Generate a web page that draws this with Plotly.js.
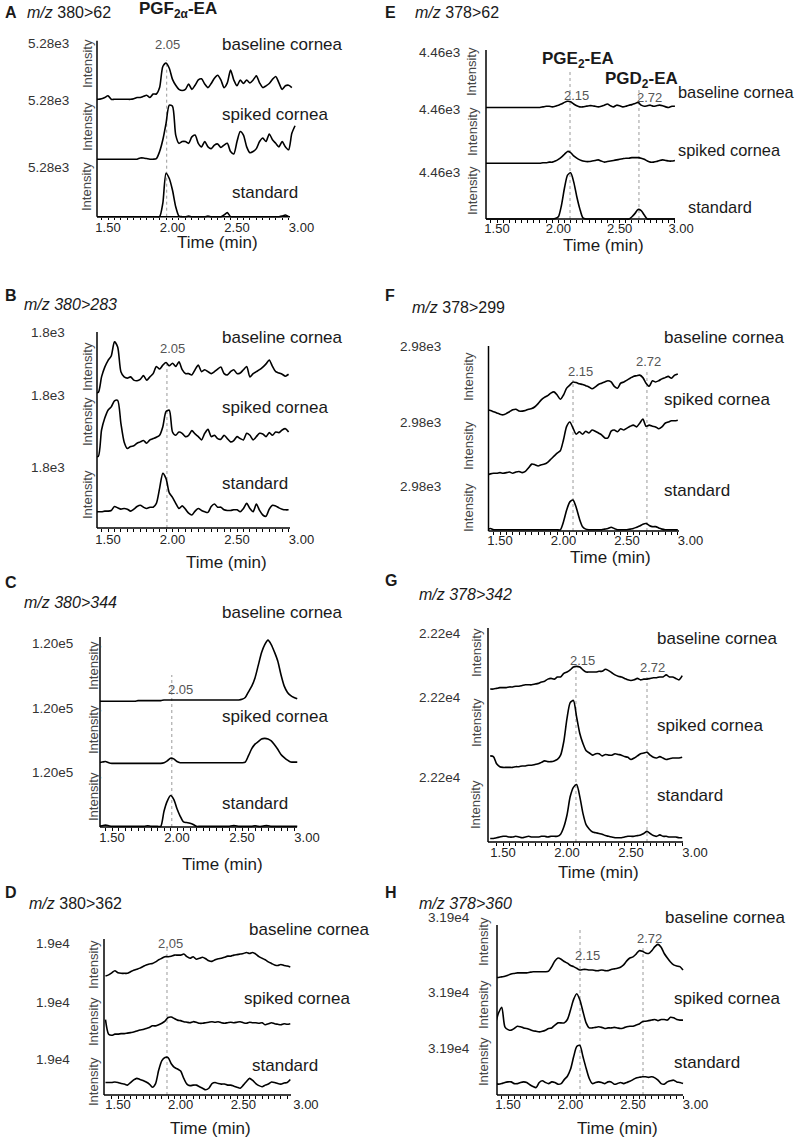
<!DOCTYPE html>
<html><head><meta charset="utf-8">
<script src="https://cdn.plot.ly/plotly-3.0.1.min.js"></script>
<style>html,body{margin:0;padding:0;background:#fff;}#chart{width:797px;height:1138px;}</style>
</head><body><div id="chart"></div>
<script>
// ---------------- DATA ----------------
const TIME = [1.400,1.425,1.450,1.475,1.500,1.525,1.550,1.575,1.600,1.625,
 1.650,1.675,1.700,1.725,1.750,1.775,1.800,1.825,1.850,1.875,
 1.900,1.925,1.950,1.975,2.000,2.025,2.050,2.075,2.100,2.125,
 2.150,2.175,2.200,2.225,2.250,2.275,2.300,2.325,2.350,2.375,
 2.400,2.425,2.450,2.475,2.500,2.525,2.550,2.575,2.600,2.625,
 2.650,2.675,2.700,2.725,2.750,2.775,2.800,2.825,2.850,2.875,
 2.900,2.925,2.950];

const PANEL_LETTERS = ['A','B','C','D','E','F','G','H'];
const TRANSITIONS = ['380>62','380>283','380>344','380>362','378>62','378>299','378>342','378>360'];
const INTENSITY_MAX = ['5.28e3','1.8e3','1.20e5','1.9e4','4.46e3','2.98e3','2.22e4','3.19e4'];
const SERIES_NAMES = ['baseline cornea','spiked cornea','standard'];
const RT_MARK_TIMES = [[1.955],[1.957],[1.96],[1.891],[2.095,2.657],[2.075,2.657],[2.07,2.625],[2.076,2.58]];
const RT_MARK_LABELS = [['2.05'],['2.05'],['2.05'],['2.05'],['2.15','2.72'],['2.15','2.72'],['2.15','2.72'],['2.15','2.72']];
const X_TICKS = [1.5, 2.0, 2.5, 3.0];
const X_TICK_TEXT = ['1.50','2.00','2.50','3.00'];

// relative intensity (% of each trace's full scale)
const A_BASELINE = [0,0,1,3,6,0,0,0,0,0,
 0,0,1,3,3,5,7,3,9,9,
 20,56,62,53,34,24,17,15,17,26,
 17,24,33,35,26,20,27,36,41,33,
 20,28,50,33,23,33,27,33,28,33,
 40,28,20,23,27,34,39,28,17,23,
 24,20,null];
const A_SPIKED = [-2,-2,-2,-2,-2,-2,-2,-2,-2,-2,
 -2,-2,-2,-2,0,0,-1,-2,-2,-1,
 11,31,59,90,88,39,25,28,28,25,
 36,39,25,19,28,19,16,22,24,18,
 22,25,11,7,28,45,39,19,9,11,
 16,28,34,28,41,31,25,19,28,19,
 14,42,55];
const A_STANDARD = [0,0,0,0,0,0,0,0,0,0,
 0,0,0,0,0,0,0,0,0,0,
 0,23,74,65,45,17,1,0,0,1,
 0,0,0,0,0,1,0,0,0,0,
 3,7,0,0,0,0,0,0,0,0,
 0,0,0,0,0,0,0,0,1,3,
 0,null,null];

const B_BASELINE = [7,7,31,46,56,63,85,77,39,31,
 29,31,26,25,27,33,26,31,36,47,
 43,49,53,48,52,47,54,42,36,36,
 34,42,49,39,42,39,36,39,43,46,
 36,34,39,42,36,37,42,47,31,36,
 39,42,46,51,57,47,39,37,35,32,
 35,null,null];
const B_SPIKED = [10,10,50,68,80,85,94,95,60,32,
 22,25,26,30,32,34,30,35,37,39,
 42,55,78,80,47,42,47,45,40,42,
 49,44,40,35,45,51,40,42,37,36,
 42,37,32,34,40,37,35,45,42,35,
 40,45,44,40,46,42,47,46,50,52,
 47,null,null];
const B_STANDARD = [25,25,25,26,26,27,33,31,29,30,
 29,26,29,33,35,32,30,32,32,38,
 61,84,76,54,47,38,30,34,29,23,
 20,26,30,27,25,24,33,37,32,32,
 28,27,27,28,28,25,30,38,30,25,
 37,27,20,18,29,35,34,31,29,28,
 28,null,null];

const C_BASELINE = [-2,-2,-2,-2,-2,-2,-2,-2,-2,-2,
 -2,-2,-1,-1,-1,-1,-1,-1,-1,-1,
 0,0,0,0,0,0,0,0,0,0,
 0,0,0,0,0,0,0,0,0,0,
 0,0,0,0,1,4,13,22,35,55,
 75,88,95,88,76,62,40,22,12,7,
 4,2,null];
const C_SPIKED = [2,3,4,2,1,1,1,1,1,1,
 1,1,1,1,1,1,1,1,1,1,
 2,5,9,8,4,2,2,2,2,2,
 2,2,2,2,2,2,2,2,2,2,
 2,2,2,2,2,3,13,24,31,35,
 39,40,39,36,30,23,15,10,6,3,
 3,3,null];
const C_STANDARD = [1,2,3,2,1,1,1,1,1,1,
 1,1,1,1,1,2,1,1,1,1,
 25,41,50,44,29,17,8,7,6,4,
 1,1,1,1,1,1,1,1,1,1,
 1,2,2,1,1,1,1,1,2,1,
 1,2,2,1,1,1,1,1,1,1,
 1,1,null];

const D_BASELINE = [29,31,35,39,35,34,34,34,37,40,
 42,44,47,50,52,53,56,60,63,66,
 66,67,69,69,69,71,66,63,66,61,
 63,65,62,58,57,60,62,63,65,67,
 67,69,70,71,72,74,72,74,71,66,
 63,60,56,53,50,49,51,49,48,46,
 null,null,null];
const D_SPIKED = [45,17,15,17,17,18,18,19,20,21,
 23,25,26,28,30,33,33,35,38,42,
 49,50,47,44,43,41,40,39,41,40,
 38,38,39,40,41,40,41,39,38,39,
 40,39,40,41,39,38,40,39,39,38,
 39,35,37,39,37,36,35,37,36,37,
 null,null,null];
const D_STANDARD = [24,24,24,25,24,22,21,19,24,29,
 32,30,28,25,21,15,22,48,66,72,
 72,60,53,50,46,32,21,18,19,19,
 16,13,10,13,22,24,22,21,21,19,
 19,17,15,13,19,26,32,28,22,18,
 16,19,21,25,24,22,21,23,24,30,
 null,null,null];

const E_BASELINE = [-2,-2,-2,-2,-2,-2,-2,-2,-2,-2,
 -2,-2,-2,-2,-2,-2,-2,-2,-2,-1,
 0,0,-1,0,2,4,7,9,8,4,
 1,-1,-1,0,1,1,0,-1,0,2,
 4,1,-1,2,1,-1,0,2,3,5,
 7,2,0,1,2,0,1,2,1,-1,
 -2,0,0];
const E_SPIKED = [-1,-1,-1,-1,-1,-1,-1,-1,-1,-1,
 -1,-1,-1,-1,-1,-1,-1,-1,-1,0,
 0,1,1,3,6,10,15,20,18,12,
 8,5,3,2,2,3,4,5,3,1,
 2,3,4,5,6,7,8,8,9,9,
 9,8,6,3,1,1,2,4,5,4,
 3,3,4];
const E_STANDARD = [0,0,0,0,0,0,0,0,0,0,
 0,0,0,0,0,0,0,0,0,0,
 0,0,0,1,4,24,55,78,82,66,
 40,18,2,0,0,0,0,0,0,0,
 0,0,0,0,0,0,0,0,4,10,
 17,15,7,0,0,0,0,0,0,0,
 0,0,0];

const F_BASELINE = [-3,-4,-6,-8,-10,-11,-9,-6,-3,-2,
 -5,-5,-4,-2,-1,2,7,13,17,20,
 24,26,21,14,21,32,37,42,41,39,
 38,36,34,31,34,38,40,42,44,42,
 35,32,40,42,45,48,51,52,53,49,
 40,35,44,42,44,47,49,51,48,53,
 55,null,null];
const F_SPIKED = [-10,-8,-7,-7,-6,-7,-6,-5,-7,-5,
 -4,-6,-4,2,8,7,5,7,8,11,
 16,21,26,30,48,70,77,67,57,61,
 57,62,59,64,62,59,56,51,51,62,
 64,61,66,64,67,70,72,69,75,82,
 70,72,70,69,66,69,75,77,79,79,
 80,null,null];
const F_STANDARD = [2,4,2,2,2,2,2,2,2,2,
 2,2,2,2,2,2,2,2,2,2,
 2,2,2,2,15,34,47,50,38,20,
 7,3,2,2,2,2,2,3,4,6,
 4,2,2,2,2,3,4,6,8,11,
 12,9,7,7,5,3,2,2,2,2,
 2,null,null];

const G_BASELINE = [14,14,15,16,16,16,17,17,18,18,
 19,20,20,20,21,22,24,25,28,29,
 28,31,31,36,38,41,45,46,45,41,
 38,38,38,38,39,39,42,40,37,34,
 32,31,29,27,26,27,29,27,28,28,
 29,30,30,31,31,34,31,31,29,27,
 33,null,null];
const G_SPIKED = [21,20,10,6,5,5,5,5,6,6,
 7,7,8,8,9,10,12,14,13,13,
 14,16,22,41,73,95,98,75,52,38,
 28,25,22,24,24,21,23,22,22,24,
 23,22,20,19,16,18,21,24,25,26,
 22,19,18,20,18,16,17,18,18,18,
 19,null,null];
const G_STANDARD = [5,5,6,7,8,8,7,7,8,7,
 6,7,8,7,7,7,8,8,7,8,
 8,8,11,21,38,64,77,81,64,40,
 24,18,14,13,12,11,9,8,7,6,
 6,6,7,8,8,8,9,10,12,15,
 12,9,8,10,8,8,7,7,7,6,
 6,null,null];

const H_BASELINE = [8,8,9,10,12,14,15,16,16,16,
 16,17,18,18,18,18,18,19,27,37,
 42,40,36,33,29,27,24,21,22,22,
 21,21,20,20,21,20,20,22,23,24,
 26,30,37,42,44,49,55,54,51,50,
 55,62,66,61,50,42,35,30,28,27,
 21,null,null];
const H_SPIKED = [26,45,55,20,15,14,17,21,20,18,
 17,15,13,12,11,12,14,17,18,23,
 27,27,27,33,50,69,79,68,47,27,
 18,18,19,20,19,17,18,18,19,18,
 17,18,20,21,21,23,25,29,30,31,
 32,33,31,33,33,32,37,36,33,32,
 32,null,null];
const H_STANDARD = [20,19,20,22,23,23,20,20,22,23,
 22,18,15,13,22,25,22,20,23,22,
 19,20,27,33,45,67,85,87,67,47,
 29,20,22,23,22,20,23,23,19,20,
 22,20,22,24,27,30,31,32,32,31,
 32,30,26,20,19,23,25,26,23,22,
 20,null,null];

const SERIES = [
  [A_BASELINE, A_SPIKED, A_STANDARD],
  [B_BASELINE, B_SPIKED, B_STANDARD],
  [C_BASELINE, C_SPIKED, C_STANDARD],
  [D_BASELINE, D_SPIKED, D_STANDARD],
  [E_BASELINE, E_SPIKED, E_STANDARD],
  [F_BASELINE, F_SPIKED, F_STANDARD],
  [G_BASELINE, G_SPIKED, G_STANDARD],
  [H_BASELINE, H_SPIKED, H_STANDARD]
];

// ---------------- LAYOUT GEOMETRY (pixels) ----------------
const GEOM = [
 {L:97, Rline:290, P15:108, S:129, edges:[40.7,99.3,158,216.7], tickY:228, title:[217,243], letter:[3,12], mz:[25,12], italicAll:false,
  intX:87, intYs:[64,127,187], scaleR:71, scaleYs:[43,100,167], labels:[[220,45],[220,115],[230,193]], labelSize:17, rt:[[167,45]], rtTops:[60]},
 {L:97, Rline:290, P15:108, S:129, edges:[332,397,463,528], tickY:540, title:[226,563], letter:[3,295], mz:[22,304], italicAll:true,
  intX:87, intYs:[367,422,495], scaleR:67, scaleYs:[332,396,467], labels:[[220,338],[220,407],[220,483]], labelSize:17, rt:[[172,348]], rtTops:[360]},
 {L:100, Rline:297, P15:112, S:130, edges:[637,700,764,827], tickY:838, title:[223,864], letter:[3,582], mz:[22,602], italicAll:true,
  intX:93, intYs:[666,730,797], scaleR:75, scaleYs:[643,708,772], labels:[[220,612],[220,717],[220,803]], labelSize:17, rt:[[180,689]], rtTops:[675]},
 {L:104, Rline:291, P15:118, S:125.3, edges:[939,991,1043,1095], tickY:1105, title:[210,1128], letter:[3,892], mz:[27,903], italicAll:false,
  intX:93, intYs:[965,1022,1082], scaleR:72, scaleYs:[943,1002,1059], labels:[[247,929],[242,998],[250,1065]], labelSize:17, rt:[[170,943]], rtTops:[947]},
 {L:486, Rline:675, P15:497, S:122.7, edges:[50,106.3,162.7,219], tickY:228, title:[603,245], letter:[383,12], mz:[413,12], italicAll:false,
  intX:472, intYs:[72,132,191], scaleR:462, scaleYs:[53,110,172], labels:[[676,92],[676,150],[686,207]], labelSize:16.4, rt:[[576,95],[649,97]], rtTops:[72,87]},
 {L:488.5, Rline:679, P15:500, S:127, edges:[346,408,469,531], tickY:541, title:[610,557], letter:[383,295], mz:[410,307], italicAll:false,
  intX:468, intYs:[376,445,507], scaleR:443, scaleYs:[346,423,487], labels:[[662,338],[662,399],[662,490]], labelSize:17, rt:[[580,371],[648,361]], rtTops:[380,370]},
 {L:488, Rline:683, P15:503, S:128, edges:[628,699,771,842], tickY:853, title:[598,872], letter:[383,580], mz:[417,595], italicAll:true,
  intX:476, intYs:[653,723,805], scaleR:463, scaleYs:[633,697,777], labels:[[655,638],[655,725],[655,795]], labelSize:17, rt:[[582,660],[652,667]], rtTops:[668,675]},
 {L:497, Rline:683, P15:508, S:125, edges:[925,982,1038,1095], tickY:1105, title:[617,1128], letter:[383,892], mz:[417,903], italicAll:true,
  intX:483, intYs:[942,1005,1062], scaleR:472, scaleYs:[917,992,1048], labels:[[663,917],[672,998],[672,1062]], labelSize:17, rt:[[587,955],[649,938]], rtTops:[930,945]}
];

const W = 797, H = 1138;
const FONT = 'Liberation Sans, Arial, Helvetica, sans-serif';
const px = v => v / W;
const py = v => 1 - v / H;
const LO = -25, HI = 115;

const layout = {
  width: W, height: H, margin: {l:0, r:0, t:0, b:0},
  paper_bgcolor: '#ffffff', plot_bgcolor: 'rgba(0,0,0,0)',
  showlegend: false, font: {family: FONT, color: '#222'},
  annotations: [], shapes: []
};
const traces = [];

function ann(text, x, y, o) {
  o = o || {};
  layout.annotations.push({
    text: text, x: px(x), y: py(y), xref: 'paper', yref: 'paper', showarrow: false,
    xanchor: o.xanchor || 'left', yanchor: 'middle', textangle: o.angle || 0,
    font: {family: FONT, size: o.size || 17, color: o.color || '#1a1a1a'}
  });
}

GEOM.forEach((g, p) => {
  const xid = p === 0 ? 'x' : 'x' + (p + 1);
  const xkey = p === 0 ? 'xaxis' : 'xaxis' + (p + 1);
  const t0 = 1.5 - (g.P15 - g.L) / g.S;
  const tLine = 1.5 + (g.Rline - g.P15) / g.S;
  const tEnd = 3.02;
  const domR = g.P15 + g.S * (tEnd - 1.5);
  const minorVals = [];
  for (let k = 0; ; k++) { const v = 1.45 + 0.05 * k; if (v > tLine + 1e-6) break; if (v >= t0) minorVals.push(+v.toFixed(2)); }
  const lineY = g.edges[3];
  layout[xkey] = {
    domain: [px(g.L), px(domR)], range: [t0, tEnd], anchor: 'free', position: py(lineY),
    showline: false, showgrid: false, zeroline: false, ticks: '',
    ticklabelstandoff: Math.max(0, Math.round(g.tickY - lineY - 10)),
    tickvals: X_TICKS, ticktext: X_TICK_TEXT, tickfont: {family: FONT, size: 13, color: '#222'}, fixedrange: true,
    minor: {ticks: 'outside', ticklen: 2.5, tickwidth: 1, tickcolor: '#000', tickmode: 'array', tickvals: minorVals, showgrid: false}
  };
  for (let s = 0; s < 3; s++) {
    const idx = p * 3 + s + 1;
    const yid = idx === 1 ? 'y' : 'y' + idx;
    const ykey = idx === 1 ? 'yaxis' : 'yaxis' + idx;
    const top = g.edges[s], bot = g.edges[s + 1], h = bot - top;
    const pxTop = bot - h * HI / 100, pxBot = bot - h * LO / 100;
    layout[ykey] = {domain: [py(pxBot), py(pxTop)], range: [LO, HI], visible: false, anchor: xid, fixedrange: true};
    traces.push({
      x: TIME, y: SERIES[p][s], xaxis: xid, yaxis: yid, type: 'scatter', mode: 'lines',
      name: SERIES_NAMES[s], line: {color: '#000', width: 1.6, shape: 'spline', smoothing: 0.7},
      hoverinfo: 'skip'
    });
    ann(SERIES_NAMES[s], g.labels[s][0], g.labels[s][1], {size: g.labelSize});
    ann('Intensity', g.intX, g.intYs[s], {size: 13, color: '#444', angle: -90, xanchor: 'center'});
    ann(INTENSITY_MAX[p], g.scaleR, g.scaleYs[s], {size: 13.5, color: '#333', xanchor: 'right'});
  }
  layout.shapes.push({type: 'line', xref: 'paper', yref: 'paper', x0: px(g.L), x1: px(g.L), y0: py(g.edges[3]), y1: py(g.edges[0]), line: {color: '#000', width: 1.5}});
  layout.shapes.push({type: 'line', xref: 'paper', yref: 'paper', x0: px(g.L), x1: px(g.Rline), y0: py(g.edges[3]), y1: py(g.edges[3]), line: {color: '#000', width: 1.5}});
  RT_MARK_TIMES[p].forEach((t, i) => {
    layout.shapes.push({type: 'line', xref: xid, yref: 'paper', x0: t, x1: t, y0: py(g.edges[3]), y1: py(g.rtTops[i]),
      line: {color: '#9a9a9a', width: 1, dash: 'dot'}, layer: 'below'});
    ann(RT_MARK_LABELS[p][i], g.rt[i][0], g.rt[i][1], {size: 13, color: '#555', xanchor: 'center'});
  });
  ann('<b>' + PANEL_LETTERS[p] + '</b>', g.letter[0], g.letter[1], {size: 16});
  const tr = TRANSITIONS[p].replace('>', '&gt;');
  ann(g.italicAll ? '<i>m/z ' + tr + '</i>' : '<i>m/z</i> ' + tr, g.mz[0], g.mz[1], {size: 16});
  ann('Time (min)', g.title[0], g.title[1], {size: 17, xanchor: 'center'});
});

ann('<b>PGF<sub>2α</sub>-EA</b>', 137, 10, {size: 17});
ann('<b>PGE<sub>2</sub>-EA</b>', 540, 60, {size: 17});
ann('<b>PGD<sub>2</sub>-EA</b>', 603, 80, {size: 17});

Plotly.newPlot('chart', traces, layout, {displayModeBar: false, staticPlot: true});
</script>
</body></html>
